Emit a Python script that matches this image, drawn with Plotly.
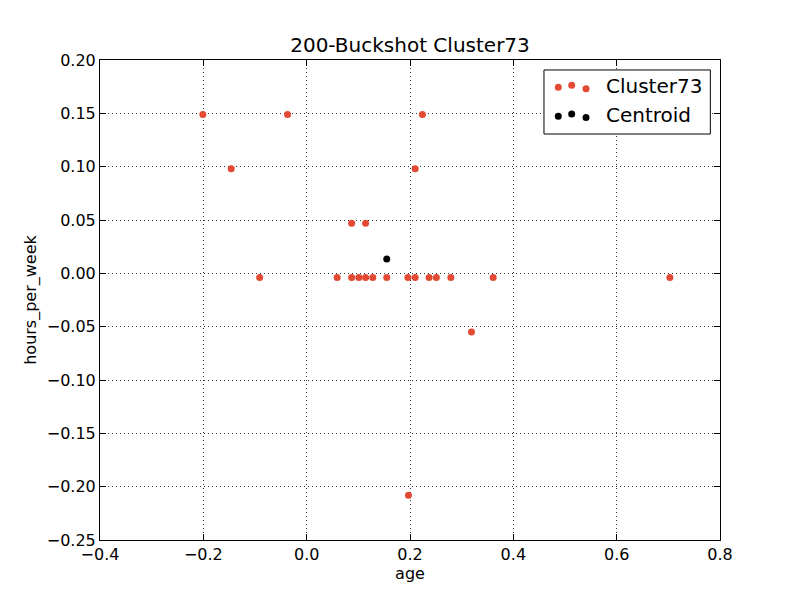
import plotly.graph_objects as go

# Cluster73 members (age, hours_per_week), normalized
cluster_age = [-0.201, -0.037, 0.224, -0.146, 0.210, 0.087, 0.114,
               -0.091, 0.059, 0.087, 0.101, 0.114, 0.128, 0.155, 0.196,
               0.210, 0.237, 0.251, 0.279, 0.361, 0.703, 0.319, 0.197]
cluster_hours = [0.149, 0.149, 0.149, 0.098, 0.098, 0.047, 0.047,
                 -0.004, -0.004, -0.004, -0.004, -0.004, -0.004, -0.004, -0.004,
                 -0.004, -0.004, -0.004, -0.004, -0.004, -0.004, -0.055, -0.208]

centroid_age = [0.155]
centroid_hours = [0.0134]

x_ticks = [-0.4, -0.2, 0.0, 0.2, 0.4, 0.6, 0.8]
y_ticks = [0.20, 0.15, 0.10, 0.05, 0.00, -0.05, -0.10, -0.15, -0.20, -0.25]

series_names = ["Cluster73", "Centroid"]
series_colors = ["#E24A33", "black"]

FONT = "DejaVu Sans"

fig = go.Figure()
fig.add_trace(go.Scatter(
    x=cluster_age, y=cluster_hours, mode="markers", name=series_names[0],
    marker=dict(color=series_colors[0], size=7, line=dict(width=0)),
    showlegend=False,
))
fig.add_trace(go.Scatter(
    x=centroid_age, y=centroid_hours, mode="markers", name=series_names[1],
    marker=dict(color=series_colors[1], size=7, line=dict(width=0)),
    showlegend=False,
))

# ---- matplotlib-style legend (3 scatter points per entry), placed in plot-area fractions ----
leg_x0, leg_x1, leg_y0, leg_y1 = 0.7161, 0.9844, 0.8458, 0.9792
glyph_x = [0.7392, 0.7608, 0.7839]
glyph_yoff = [0.0, 0.0045, -0.0030]   # matplotlib scatteryoffsets
entry_y = [0.9430, 0.8830]
text_x = 0.8125

fig.add_shape(type="rect", xref="x2", yref="y2",
              x0=leg_x0, x1=leg_x1, y0=leg_y0, y1=leg_y1,
              line=dict(color="black", width=1), fillcolor="white", layer="above")

for name, color, ey in zip(series_names, series_colors, entry_y):
    for gx, off in zip(glyph_x, glyph_yoff):
        fig.add_shape(type="circle", xref="x2", yref="y2",
                      xsizemode="pixel", ysizemode="pixel",
                      xanchor=gx, yanchor=ey + off,
                      x0=-3.5, x1=3.5, y0=-3.5, y1=3.5,
                      line=dict(width=0), fillcolor=color, layer="above")
    fig.add_annotation(
        x=text_x, y=ey + 0.003, xref="x2", yref="y2", text=name, showarrow=False,
        xanchor="left", yanchor="middle",
        font=dict(family=FONT, size=20, color="black"),
    )

axis_common = dict(
    showline=True, linecolor="black", linewidth=1, mirror="ticks",
    ticks="inside", ticklen=6, tickcolor="black", tickwidth=1,
    showgrid=True, gridcolor="#333333", gridwidth=0.6, griddash="1px,3px",
    zeroline=False, tickfont=dict(family=FONT, size=16, color="black"),
)

fig.update_xaxes(
    range=[-0.4, 0.8], tickvals=x_ticks, tickformat=".1f",
    title=dict(text="age", font=dict(family=FONT, size=16, color="black"), standoff=4),
    **axis_common,
)
fig.update_yaxes(
    range=[-0.25, 0.20], tickvals=y_ticks, tickformat=".2f",
    title=dict(text="hours_per_week", font=dict(family=FONT, size=16, color="black"), standoff=6),
    **axis_common,
)

fig.update_layout(
    xaxis2=dict(overlaying="x", range=[0, 1], visible=False, fixedrange=True),
    yaxis2=dict(overlaying="y", range=[0, 1], visible=False, fixedrange=True),
    width=800, height=600,
    margin=dict(l=92, r=88, t=52, b=68),
    paper_bgcolor="white", plot_bgcolor="white",
    font=dict(family=FONT, color="black"),
    showlegend=False,
    title=dict(text="200-Buckshot Cluster73", xref="paper", x=0.5, xanchor="center",
               y=0.938, yanchor="middle",
               font=dict(family=FONT, size=20, color="black")),
)

fig.write_html("out.html")
